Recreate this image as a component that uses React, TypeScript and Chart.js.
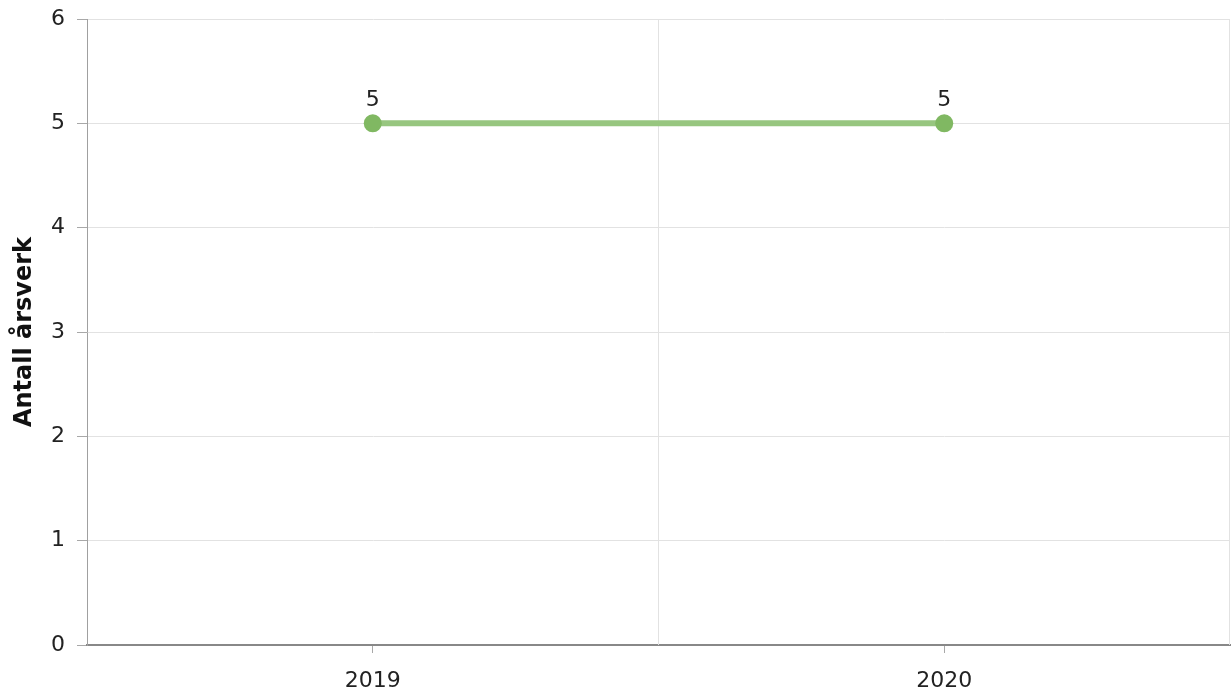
import React, { useEffect, useRef } from "react";
import { Chart, registerables } from "chart.js";

Chart.register(...registerables);

const categories: string[] = ["2019", "2020"];
const values: number[] = [5, 5];
const yTicks: number[] = [0, 1, 2, 3, 4, 5, 6];
const yTitle = "Antall årsverk";

const FONT = "'DejaVu Sans', Verdana, sans-serif";

const boundaryGrid = {
  id: "boundaryGrid",
  beforeDatasetsDraw(chart: any) {
    const x = chart.scales.x;
    const area = chart.chartArea;
    const n = categories.length;
    const px = (i: number) => x.getPixelForValue(i);
    const step = n > 1 ? px(1) - px(0) : area.right - area.left;
    const ctx = chart.ctx;
    ctx.save();
    ctx.strokeStyle = "#e2e2e2";
    ctx.lineWidth = 1;
    for (let i = 1; i <= n; i++) {
      let bx = i < n ? (px(i - 1) + px(i)) / 2 : px(n - 1) + step / 2;
      bx = Math.round(bx) - 0.5;
      ctx.beginPath();
      ctx.moveTo(bx, area.top);
      ctx.lineTo(bx, area.bottom);
      ctx.stroke();
    }
    ctx.restore();
  },
};

const pointLabels = {
  id: "pointLabels",
  afterDatasetsDraw(chart: any) {
    const ctx = chart.ctx;
    const meta = chart.getDatasetMeta(0);
    ctx.save();
    ctx.font = `22px ${FONT}`;
    ctx.fillStyle = "#222";
    ctx.textAlign = "center";
    ctx.textBaseline = "bottom";
    meta.data.forEach((el: any, i: number) => {
      ctx.fillText(String(values[i]), el.x, el.y - 12);
    });
    ctx.restore();
  },
};

export default function App() {
  const ref = useRef<HTMLCanvasElement | null>(null);
  useEffect(() => {
    if (!ref.current) return;
    const chart = new Chart(ref.current, {
      type: "line",
      data: {
        labels: categories,
        datasets: [
          {
            data: values,
            borderColor: "#97c67f",
            borderWidth: 6,
            pointBackgroundColor: "#80b862",
            pointBorderColor: "#80b862",
            pointRadius: 9,
            pointBorderWidth: 0,
            fill: false,
            tension: 0,
            clip: false,
          },
        ],
      },
      options: {
        animation: false,
        responsive: true,
        maintainAspectRatio: false,
        layout: { autoPadding: false, padding: { top: 19, right: 1, left: 0, bottom: 0 } },
        plugins: {
          legend: { display: false },
          tooltip: { enabled: false },
          title: { display: false },
        },
        scales: {
          x: {
            type: "category",
            offset: true,
            afterFit: (s: any) => {
              s.height = 48;
              s.paddingLeft = 0;
              s.paddingRight = 0;
            },
            grid: {
              offset: false,
              drawOnChartArea: false,
              drawTicks: true,
              tickLength: 8,
              tickColor: "#a8a8a8",
            },
            border: { display: true, color: "#888888", width: 2 },
            ticks: {
              color: "#222",
              font: { family: FONT, size: 22 },
              padding: 15,
              maxRotation: 0,
            },
          },
          y: {
            min: 0,
            max: 6,
            afterFit: (s: any) => {
              s.width = 87;
              s.paddingTop = 0;
              s.paddingBottom = 0;
            },
            afterBuildTicks: (s: any) => {
              s.ticks = yTicks.map((v) => ({ value: v }));
            },
            grid: {
              color: "#e2e2e2",
              tickColor: "#a8a8a8",
              tickLength: 10,
            },
            border: { display: true, color: "#a0a0a0", width: 1 },
            ticks: {
              color: "#222",
              font: { family: FONT, size: 22 },
              padding: 12,
            },
            title: {
              display: true,
              text: yTitle,
              color: "#111",
              font: { family: FONT, size: 24, weight: "bold" },
              padding: { top: 10, bottom: 6 },
            },
          },
        },
      },
      plugins: [boundaryGrid, pointLabels],
    });
    return () => chart.destroy();
  }, []);
  return (
    <div style={{ position: "fixed", left: 0, top: 0, width: 1231, height: 693, background: "#fff" }}>
      <canvas ref={ref} />
    </div>
  );
}
